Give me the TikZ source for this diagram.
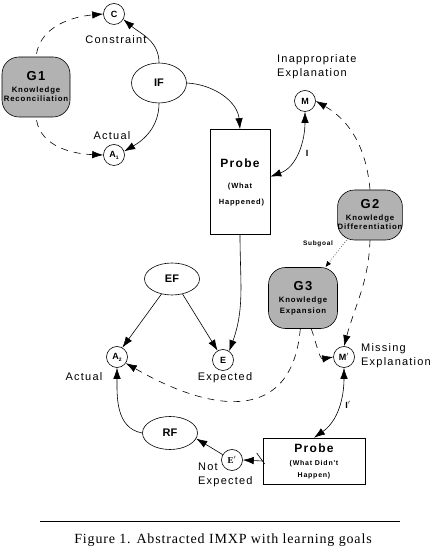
\documentclass[tikz,border=0pt]{standalone}
\usepackage{fontspec}
\setmainfont{Liberation Serif}
\setsansfont{Liberation Sans}
\newfontfamily\figsans[LetterSpace=11]{Liberation Sans}
\newfontfamily\capserif[LetterSpace=6]{Liberation Serif}
\usetikzlibrary{arrows.meta,shapes.geometric}
\tikzset{>={Latex[length=11pt,width=7.5pt]}}
\tikzset{
  term/.style={circle,draw,line width=0.6pt,inner sep=0pt,minimum size=21pt,font=\sffamily\bfseries\fontsize{9}{11}\selectfont},
  factor/.style={ellipse,draw,line width=0.6pt,minimum width=55pt,minimum height=36pt,font=\sffamily\bfseries\fontsize{11}{13}\selectfont},
  goal/.style={draw,line width=0.6pt,fill=gray!60,rounded corners=17pt,align=center,inner sep=0pt,font=\figsans\bfseries\fontsize{7.8}{9}\selectfont},
  probebox/.style={draw,line width=0.6pt,align=center,inner sep=0pt,font=\figsans\bfseries},
  lbl/.style={font=\figsans\fontsize{11}{14}\selectfont,inner sep=0pt},
  link/.style={->,line width=0.6pt},
  goallink/.style={->,line width=0.6pt,dash pattern=on 7pt off 6pt},
}
\begin{document}
\begin{tikzpicture}[x=1pt,y=1pt]
  \useasboundingbox (0,0) rectangle (431,549);

  \node[term] (C) at (114,535) {C};
  \node[lbl] (constraint) at (116,509) {Constraint};
  \node[goal,minimum width=68pt,minimum height=60pt] (G1) at (36,462)
    {{\fontsize{13}{15}\selectfont G1}\\[3pt] Knowledge\\ Reconciliation};
  \node[factor,minimum height=40pt] (IF) at (159,466) {IF};
  \node[lbl] (actual1) at (112,413) {Actual};
  \node[term] (A1) at (114,394) {A\raisebox{-2pt}{\tiny 1}};

  \node[lbl,anchor=west,align=left] (inappr) at (277,482) {Inappropriate\\Explanation};
  \node[term] (M) at (305,448) {M};
  \node[lbl,font=\sffamily\bfseries\small] (I) at (307,396) {I};
  \node[probebox,minimum width=60pt,minimum height=105pt] (Probe) at (240,367)
    {{\fontsize{12}{14}\selectfont Probe}\\[9pt] {\fontsize{7.5}{9}\selectfont(What\hspace*{18pt}}\\[4pt] {\fontsize{7.5}{9}\selectfont\ Happened)}};
  \node[goal,minimum width=64pt,minimum height=50pt] (G2) at (370,334)
    {{\fontsize{13}{15}\selectfont G2}\\[3pt] Knowledge\\ Differentiation};
  \node[lbl,font=\figsans\bfseries\fontsize{6.5}{8}\selectfont] (subgoal) at (318,305) {Subgoal};

  \node[factor,minimum height=32pt] (EF) at (172,270) {EF};
  \node[goal,minimum width=69pt,minimum height=61pt] (G3) at (303,251)
    {{\fontsize{13}{15}\selectfont G3}\\[3pt] Knowledge\\[2pt] Expansion};
  \node[term] (A2) at (117,192) {A\raisebox{-2pt}{\tiny 2}};
  \node[term] (E) at (223,189) {E};
  \node[lbl] (expected) at (225,171) {Expected};
  \node[term] (Mp) at (344,192) {M$'$};
  \node[lbl,anchor=west,align=left] (missing) at (361,193) {Missing\\Explanation};
  \node[lbl] (actual2) at (84,172) {Actual};
  \node[lbl,font=\sffamily\bfseries\small] (Ip) at (348,144) {I$'$};

  \node[factor,minimum height=33pt] (RF) at (170,116) {RF};
  \node[term,font=\rmfamily\bfseries\small] (Ep) at (232,89) {E$'$};
  \node[lbl,anchor=west,align=left] (notexp) at (198,74) {Not\\Expected};
  \node[probebox,minimum width=102pt,minimum height=46pt] (Probe2) at (314,88)
    {{\fontsize{12}{14}\selectfont Probe}\\[1pt] {\fontsize{7}{9}\selectfont(What Didn't}\\ {\fontsize{7}{9}\selectfont Happen)}};

  \draw[goallink,shorten <=3pt] (G1.north) to[out=80,in=185] (C.west);
  \draw[goallink,shorten <=3pt] (G1.south) to[out=-80,in=178] (A1.west);
  \draw[link] (IF.north) to[out=90,in=-40] (C.-30);
  \draw[link] (IF.south) to[out=-90,in=30] (A1.20);
  \draw[link] (IF.east) to[out=-3,in=95] (Probe.north);
  \draw[<->,line width=0.6pt] (Probe.10) to[out=20,in=-90] (M.south);
  \draw[goallink] (G2.north) to[out=95,in=-30] (M.east);
  \draw[->,line width=0.6pt,dotted,>={Latex[length=6pt,width=5pt]}] (G2.-133) -- (G3.54);
  \draw[goallink] (G2.south) to[out=-92,in=75] (Mp.north);
  \draw[link] (Probe.south) to[out=-90,in=70] (E.55);
  \draw[link] (EF.235) -- (A2.60);
  \draw[link] (EF.-55) -- (E.120);
  \draw[goallink] (G3.-75) to[out=-70,in=190] (Mp.west);
  \draw[goallink,looseness=1.4] (G3.-95) to[out=-95,in=-30] (A2.-35);
  \draw[link] (RF.west) to[out=170,in=-90] (A2.south);
  \draw[<->,line width=0.6pt] (Mp.south) to[out=-90,in=35] (Probe2.north);
  \draw[link] (Probe2.west) -- (Ep.east);
  \draw[line width=0.6pt] (Probe2.west) ++(-6,8) -- ++(8,-11);
  \draw[link] (Ep.150) -- (RF.-12);

  \draw[line width=0.8pt] (40,28) -- (400,28);
  \node[font=\capserif\fontsize{14}{16}\selectfont] (caption) at (223,9) {Figure 1. Abstracted IMXP with learning goals};
\end{tikzpicture}
\end{document}
